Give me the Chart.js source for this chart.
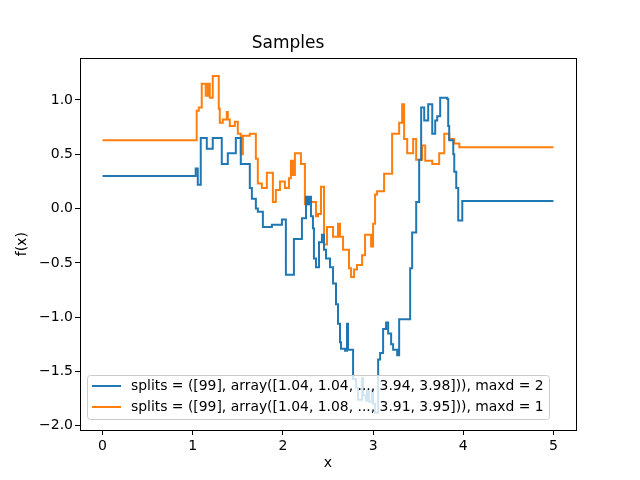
<!DOCTYPE html>
<html>
<head>
<meta charset="utf-8">
<script src="https://cdn.jsdelivr.net/npm/chart.js@4"></script>
<style>html,body{margin:0;padding:0;background:#fff}</style>
</head>
<body>
<canvas id="chart" width="640" height="480"></canvas>
<script>
var xTicks = [0, 1, 2, 3, 4, 5];
var yTicks = [-2.0, -1.5, -1.0, -0.5, 0.0, 0.5, 1.0];

// maxd = 2 : step start positions and values
var depth2X = [0, 1.033, 1.056, 1.089, 1.156, 1.222, 1.322, 1.389, 1.478, 1.533, 1.633, 1.656, 1.700, 1.722, 1.778, 1.878, 1.989, 2.033, 2.122, 2.211,
    2.256, 2.278, 2.300, 2.311, 2.333, 2.344, 2.367, 2.400, 2.433, 2.456, 2.478, 2.522, 2.556, 2.589, 2.611, 2.633, 2.644, 2.689, 2.711, 2.722,
    2.778, 2.811, 2.833, 2.878, 2.889, 2.922, 2.933, 2.956, 2.989, 3.000, 3.022, 3.056, 3.078, 3.111, 3.144, 3.167, 3.200, 3.222, 3.267, 3.289,
    3.411, 3.433, 3.478, 3.511, 3.533, 3.567, 3.611, 3.656, 3.689, 3.711, 3.744, 3.822, 3.833, 3.844, 3.889, 3.900, 3.922, 3.944, 3.989, 5.000];
var depth2Y = [0.30, 0.37, 0.22, 0.65, 0.55, 0.65, 0.41, 0.51, 0.65, 0.41, 0.19, 0.09, 0.00, -0.03, -0.17, -0.15, -0.10, -0.61, -0.28, -0.09,
    0.11, 0.04, 0.11, -0.07, -0.18, -0.46, -0.54, -0.31, -0.24, -0.38, -0.46, -0.54, -0.69, -0.88, -1.06, -1.23, -1.29, -1.31, -1.06, -1.30,
    -1.57, -1.65, -1.76, -1.56, -1.72, -1.77, -1.68, -1.78, -1.67, -1.80, -1.88, -1.39, -1.33, -1.11, -1.05, -1.15, -1.25, -1.30, -1.35, -1.02,
    -0.55, -0.22, 0.06, 0.45, 0.93, 0.81, 0.96, 0.69, 0.81, 0.85, 1.02, 1.01, 0.76, 0.63, 0.50, 0.34, 0.19, -0.11, 0.07, 0.07];

// maxd = 1
var depth1X = [0, 1.044, 1.067, 1.100, 1.144, 1.167, 1.189, 1.222, 1.289, 1.300, 1.333, 1.378, 1.389, 1.411, 1.467, 1.500, 1.533, 1.556, 1.633, 1.700,
    1.722, 1.767, 1.822, 1.889, 1.922, 1.967, 2.022, 2.067, 2.089, 2.111, 2.133, 2.200, 2.244, 2.278, 2.367, 2.389, 2.422, 2.456, 2.489, 2.556,
    2.611, 2.633, 2.667, 2.733, 2.756, 2.789, 2.822, 2.878, 2.911, 2.978, 3.000, 3.022, 3.044, 3.122, 3.211, 3.289, 3.322, 3.344, 3.378, 3.444,
    3.478, 3.544, 3.578, 3.656, 3.733, 3.789, 3.844, 3.900, 3.956, 5.000];
var depth1Y = [0.63, 0.90, 0.93, 1.15, 1.04, 1.15, 1.02, 1.22, 0.92, 0.79, 0.82, 0.89, 0.82, 0.76, 0.80, 0.69, 0.50, 0.67, 0.69, 0.46,
    0.23, 0.19, 0.33, 0.06, 0.17, 0.25, 0.19, 0.28, 0.44, 0.31, 0.51, 0.41, 0.04, 0.06, -0.07, -0.05, 0.20, -0.33, -0.17, -0.26,
    -0.14, -0.26, -0.38, -0.55, -0.63, -0.56, -0.52, -0.43, -0.24, -0.35, -0.14, 0.13, 0.16, 0.32, 0.69, 0.79, 0.96, 0.64, 0.51, 0.64,
    0.45, 0.58, 0.44, 0.41, 0.51, 0.69, 0.64, 0.60, 0.565, 0.565];

var labels = [
    "splits = ([99], array([1.04, 1.04, ..., 3.94, 3.98])), maxd = 2",
    "splits = ([99], array([1.04, 1.08, ..., 3.91, 3.95])), maxd = 1"
];
var colors = ["#1f77b4", "#ff7f0e"];

function toPoints(xs, ys) {
    var pts = [];
    for (var i = 0; i < xs.length; i++) pts.push({x: xs[i], y: ys[i]});
    return pts;
}

Chart.defaults.font.family = "'DejaVu Sans', sans-serif";
Chart.defaults.color = "#000";

var boxPlugin = {
    id: 'box',
    afterDatasetsDraw: function (chart) {
        var ctx = chart.ctx;
        ctx.save();
        // legend, lower left inside the axes
        var bx = 87, by = 375, bw = 462, bh = 44;
        ctx.beginPath();
        ctx.roundRect(bx + 0.5, by + 0.5, bw, bh, 3);
        ctx.fillStyle = "rgba(255,255,255,0.8)";
        ctx.fill();
        ctx.strokeStyle = "#cccccc";
        ctx.lineWidth = 1;
        ctx.stroke();
        ctx.font = "13.9px 'DejaVu Sans'";
        ctx.textBaseline = "middle";
        ctx.fillStyle = "#000";
        for (var i = 0; i < labels.length; i++) {
            var ly = 386 + i * 21;
            ctx.beginPath();
            ctx.moveTo(92, ly);
            ctx.lineTo(121, ly);
            ctx.strokeStyle = colors[i];
            ctx.lineWidth = 2;
            ctx.stroke();
            ctx.fillText(labels[i], 131, ly);
        }
        // frame
        var a = chart.chartArea;
        ctx.strokeStyle = "#000";
        ctx.lineWidth = 1;
        ctx.strokeRect(Math.round(a.left) + 0.5, Math.round(a.top) + 0.5, Math.round(a.right - a.left), Math.round(a.bottom - a.top));
        ctx.restore();
    }
};

new Chart(document.getElementById("chart"), {
    type: 'line',
    data: {
        datasets: [{
            label: labels[0],
            data: toPoints(depth2X, depth2Y),
            borderColor: colors[0],
            borderWidth: 2,
            pointRadius: 0,
            stepped: true,
            fill: false
        }, {
            label: labels[1],
            data: toPoints(depth1X, depth1Y),
            borderColor: colors[1],
            borderWidth: 2,
            pointRadius: 0,
            stepped: true,
            fill: false
        }]
    },
    options: {
        responsive: false,
        animation: false,
        layout: {padding: {left: 0, right: 64, top: 0, bottom: 0}},
        plugins: {
            legend: {display: false},
            tooltip: {enabled: false},
            title: {
                display: true,
                text: 'Samples',
                font: {size: 17, weight: 'normal'},
                padding: {top: 33, bottom: 5}
            }
        },
        scales: {
            x: {
                type: 'linear',
                min: -0.25,
                max: 5.25,
                afterBuildTicks: function (s) { s.ticks = xTicks.map(function (v) { return {value: v}; }); },
                afterFit: function (s) { s.height = 50; },
                grid: {drawOnChartArea: false, tickLength: 5, tickColor: '#000'},
                border: {color: '#000'},
                ticks: {font: {size: 14}, padding: 3, maxRotation: 0,
                    callback: function (v) { return String(v); }},
                title: {display: true, text: 'x', font: {size: 14}, padding: {top: 4, bottom: 8}}
            },
            y: {
                min: -2.039,
                max: 1.383,
                afterBuildTicks: function (s) { s.ticks = yTicks.map(function (v) { return {value: v}; }); },
                afterFit: function (s) { s.width = 80; },
                grid: {drawOnChartArea: false, tickLength: 5, tickColor: '#000'},
                border: {color: '#000'},
                ticks: {font: {size: 14}, padding: 2,
                    callback: function (v) { return (v < 0 ? '\u2212' : '') + Math.abs(v).toFixed(1); }},
                title: {display: true, text: 'f(x)', font: {size: 14}, padding: {top: 14, bottom: 4}}
            }
        }
    },
    plugins: [boxPlugin]
});
</script>
</body>
</html>
